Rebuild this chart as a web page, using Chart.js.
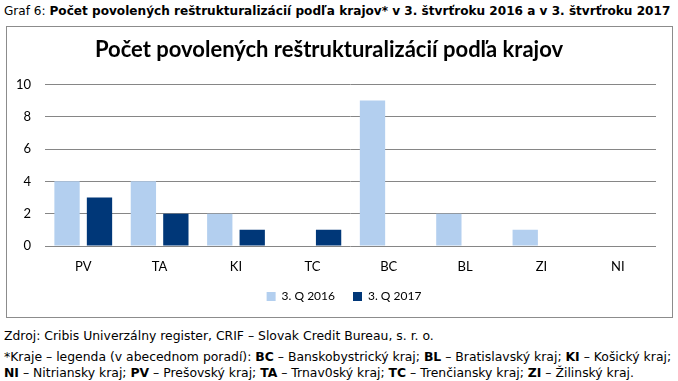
<!DOCTYPE html>
<html><head><meta charset="utf-8">
<script src="https://cdn.jsdelivr.net/npm/chart.js@4.4.0/dist/chart.umd.min.js"></script>
<style>
html,body{margin:0;padding:0;background:#fff;width:678px;height:381px;overflow:hidden;}
.cap{position:absolute;left:4px;top:4px;font-family:"DejaVu Sans",sans-serif;font-size:12.1px;color:#000;white-space:nowrap;}
.frame{position:absolute;left:6px;top:26px;width:665px;height:290px;border:1px solid #8c8c8c;}
.foot{position:absolute;left:4px;font-family:"DejaVu Sans",sans-serif;font-size:12.4px;color:#000;white-space:nowrap;}
</style></head><body>
<div class="cap">Graf 6: <b>Počet povolených reštrukturalizácií podľa krajov* v 3. štvrťroku 2016 a v 3. štvrťroku 2017</b></div>
<div class="frame"><canvas id="c" width="665" height="290"></canvas></div>
<div class="foot" style="top:328px">Zdroj: Cribis Univerzálny register, CRIF – Slovak Credit Bureau, s. r. o.</div>
<div class="foot" style="top:349px;line-height:15.5px">*Kraje – legenda (v abecednom poradí): <b>BC</b> – Banskobystrický kraj; <b>BL</b> – Bratislavský kraj; <b>KI</b> – Košický kraj;<br><b>NI</b> – Nitriansky kraj; <b>PV</b> – Prešovský kraj; <b>TA</b> – Trnav0ský kraj; <b>TC</b> – Trenčiansky kraj; <b>ZI</b> – Žilinský kraj.</div>
<script>
const categories = ["PV","TA","KI","TC","BC","BL","ZI","NI"];
const q2016 = [4,4,2,0,9,2,1,0];
const q2017 = [3,2,1,1,0,0,0,0];
const seriesNames = ["3. Q 2016","3. Q 2017"];
const yTicks = [0,2,4,6,8,10];

const shiftLegend = {id:'shiftLegend', afterLayout(chart){ const l=chart.legend; if(l){ l.left+=15; l.right+=15; } }};

new Chart(document.getElementById('c'), {
  type:'bar',
  data:{labels:categories,datasets:[
    {label:seriesNames[0],data:q2016,backgroundColor:'#B3CFEF',categoryPercentage:0.85,barPercentage:0.78},
    {label:seriesNames[1],data:q2017,backgroundColor:'#003778',categoryPercentage:0.85,barPercentage:0.78}
  ]},
  plugins:[shiftLegend],
  options:{
    responsive:false,animation:false,
    layout:{padding:{left:-5,right:16,top:6,bottom:4.5}},
    plugins:{
      title:{display:true,text:'Počet povolených reštrukturalizácií podľa krajov',color:'#000',
        font:{family:'Lato, "Open Sans", sans-serif',size:22,weight:'bold'},padding:{top:4,bottom:21}},
      legend:{position:'bottom',labels:{boxWidth:9,boxHeight:9,color:'#000',font:{family:'Lato, sans-serif',size:12},padding:18}},
      tooltip:{enabled:false}
    },
    scales:{
      x:{grid:{display:false},border:{display:false},ticks:{color:'#000',font:{family:'Lato, sans-serif',size:13},padding:5},
        afterFit:(s)=>{s.height=26.5;}},
      y:{min:0,max:10,afterBuildTicks:(s)=>{s.ticks=yTicks.map(v=>({value:v}));},
        grid:{color:'#868686',lineWidth:1,drawTicks:false},border:{display:false},
        ticks:{color:'#000',font:{family:'Lato, sans-serif',size:13},padding:14}}
    }
  }
});
</script>
</body></html>
